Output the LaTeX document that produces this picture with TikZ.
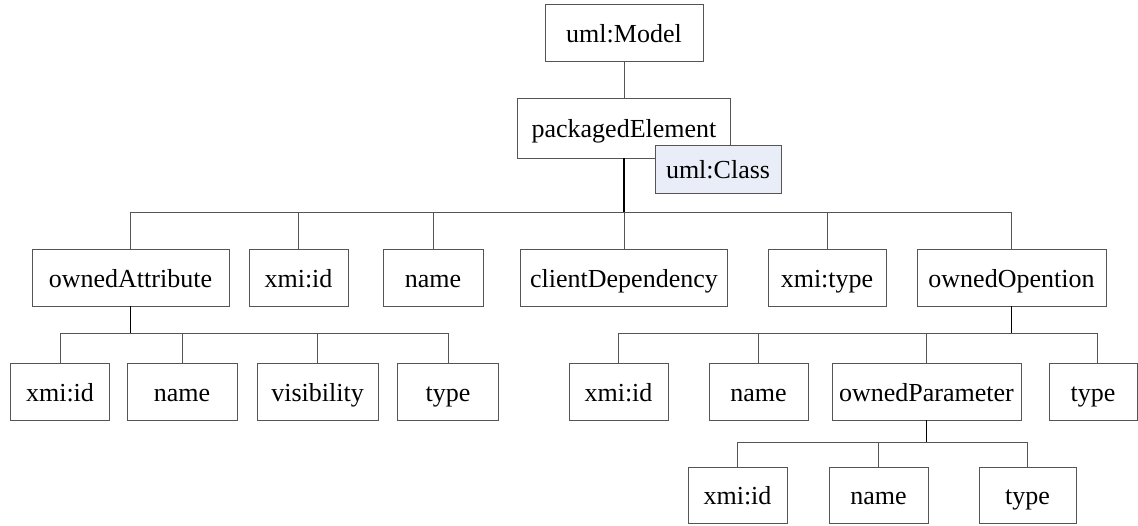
\documentclass[tikz,border=0pt]{standalone}
\usepackage{fontspec}
\setmainfont{Liberation Serif}
\definecolor{clsfill}{RGB}{232,237,247}
\definecolor{linegray}{RGB}{85,85,85}
\begin{document}
\begin{tikzpicture}[x=1pt,y=-1pt,
  box/.style={draw=linegray, line width=0.9pt, fill=white, inner sep=0pt,
    font=\fontsize{26}{30}\selectfont, text=black, text height=22pt, text depth=3pt},
  conn/.style={draw=linegray, line width=0.9pt},
  trunk/.style={draw=black, line width=1.8pt}]
\useasboundingbox (0,0) rectangle (1138,525);
% level 0/1
\node[box, minimum width=158pt, minimum height=57pt] (model) at (624,32.5) {uml:Model};
\node[box, minimum width=213pt, minimum height=60pt] (pe) at (624,128) {packagedElement};
\node[box, fill=clsfill, minimum width=126pt, minimum height=48pt] (cls) at (718,169) {uml:Class};
% level 2
\node[box, minimum width=197pt, minimum height=57pt] (oa) at (130.5,277.5) {ownedAttribute};
\node[box, minimum width=99pt, minimum height=57pt] (id1) at (298.5,277.5) {xmi:id};
\node[box, minimum width=100pt, minimum height=57pt] (nm1) at (433,277.5) {name};
\node[box, minimum width=207pt, minimum height=57pt] (cd) at (624,277.5) {clientDependency};
\node[box, minimum width=118pt, minimum height=57pt] (xt) at (827,277.5) {xmi:type};
\node[box, minimum width=189pt, minimum height=57pt] (oo) at (1011.5,277.5) {ownedOpention};
% level 3 left
\node[box, minimum width=99pt, minimum height=57pt] (a1) at (60,391.5) {xmi:id};
\node[box, minimum width=110pt, minimum height=57pt] (a2) at (182,391.5) {name};
\node[box, minimum width=121pt, minimum height=57pt] (a3) at (317.5,391.5) {visibility};
\node[box, minimum width=101pt, minimum height=57pt] (a4) at (448,391.5) {type};
% level 3 right
\node[box, minimum width=99pt, minimum height=57pt] (b1) at (618.5,391.5) {xmi:id};
\node[box, minimum width=99pt, minimum height=57pt] (b2) at (758.5,391.5) {name};
\node[box, minimum width=189pt, minimum height=57pt] (b3) at (926.5,391.5) {ownedParameter};
\node[box, minimum width=88pt, minimum height=57pt] (b4) at (1093,391.5) {type};
% level 4
\node[box, minimum width=99pt, minimum height=56pt] (c1) at (737.5,495) {xmi:id};
\node[box, minimum width=99pt, minimum height=56pt] (c2) at (878.5,495) {name};
\node[box, minimum width=97pt, minimum height=56pt] (c3) at (1027.5,495) {type};
% bus coordinates
\coordinate (bus1) at (0,212);
\coordinate (bus2) at (0,333);
\coordinate (bus3) at (0,442);
% connectors
\draw[conn] (model.south) -- (pe.north);
\draw[conn] (oa.north |- bus1) -- (oo.north |- bus1);
\foreach \n in {oa,id1,nm1,cd,xt,oo} \draw[conn] (\n.north) -- (\n.north |- bus1);
\draw[trunk] (pe.south) -- (pe.south |- bus1);
\draw[conn] (a1.north |- bus2) -- (a4.north |- bus2);
\foreach \n in {a1,a2,a3,a4} \draw[conn] (\n.north) -- (\n.north |- bus2);
\draw[trunk] (oa.south) -- (oa.south |- bus2);
\draw[conn] (b1.north |- bus2) -- ([xshift=4pt]b4.north |- bus2);
\foreach \n in {b1,b2,b3} \draw[conn] (\n.north) -- (\n.north |- bus2);
\draw[conn] ([xshift=4pt]b4.north) -- ([xshift=4pt]b4.north |- bus2);
\draw[trunk] (oo.south) -- (oo.south |- bus2);
\draw[conn] (c1.north |- bus3) -- (c3.north |- bus3);
\foreach \n in {c1,c2,c3} \draw[conn] (\n.north) -- (\n.north |- bus3);
\draw[trunk] (b3.south) -- (b3.south |- bus3);
\end{tikzpicture}
\end{document}
